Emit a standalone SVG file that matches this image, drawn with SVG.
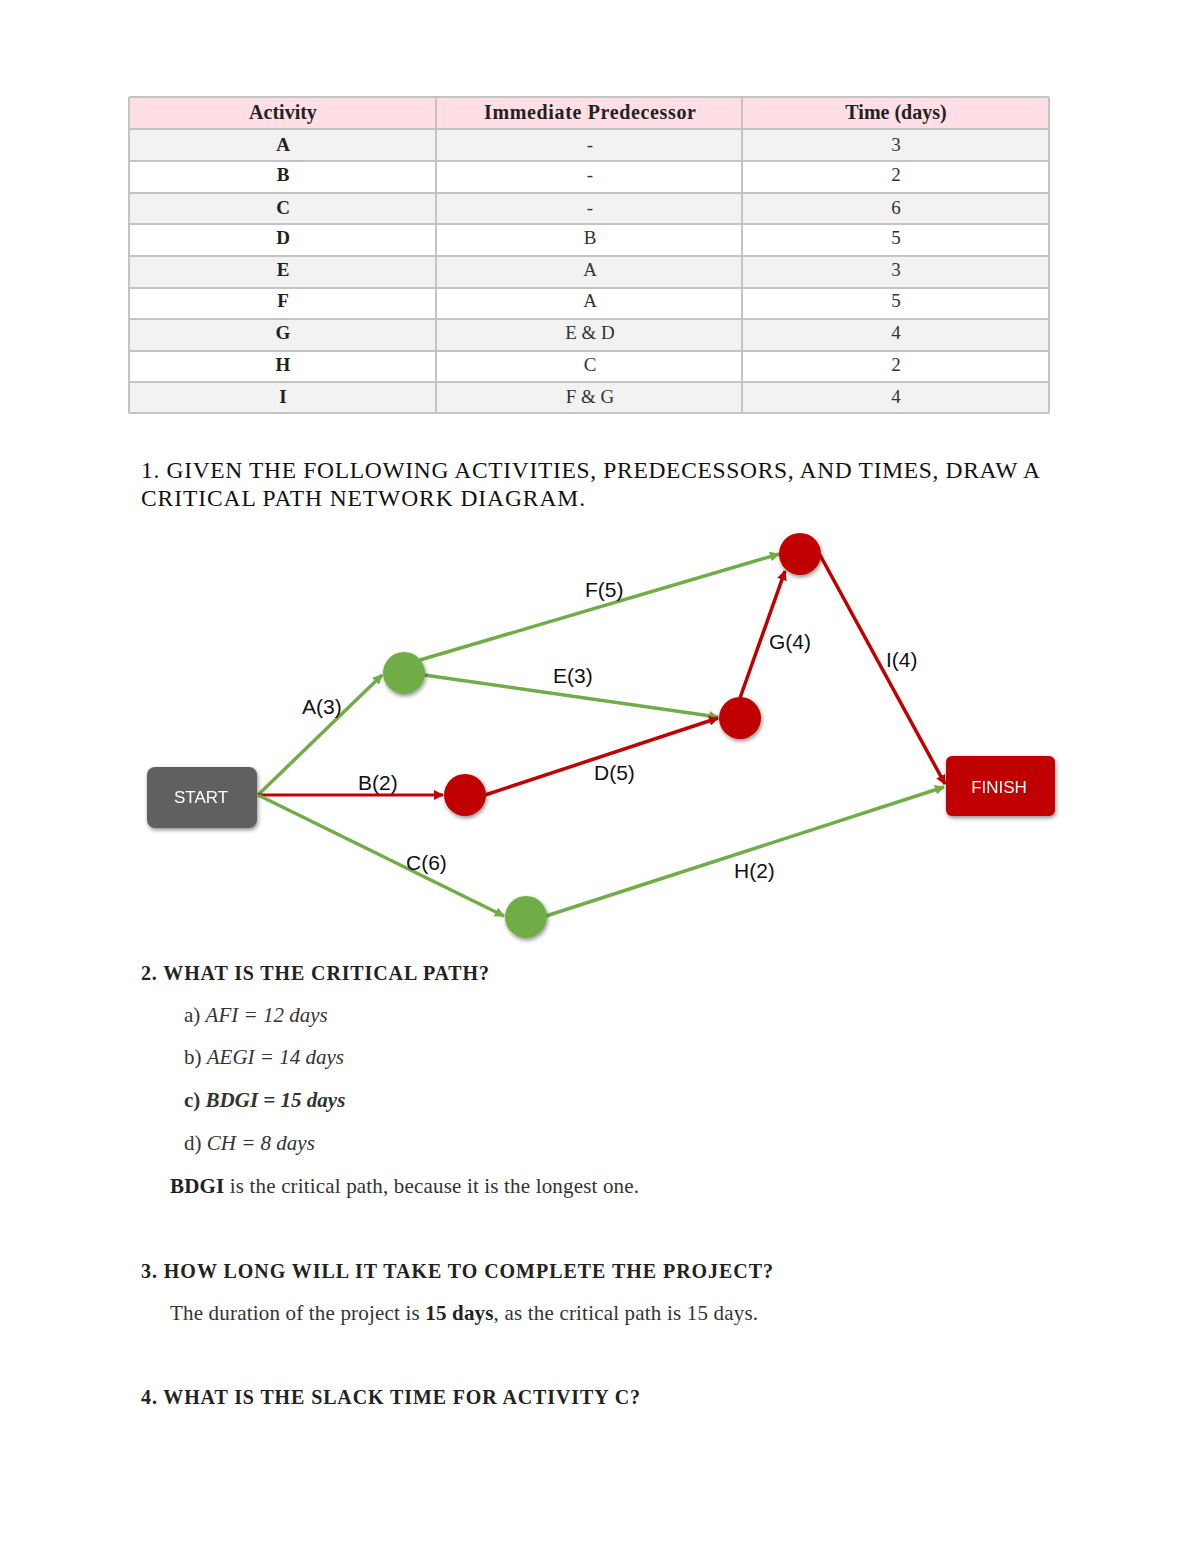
<svg xmlns="http://www.w3.org/2000/svg" width="1200" height="1553" viewBox="0 0 1200 1553">
<style>
.th{font-family:"Liberation Serif",serif;font-weight:bold;font-size:20px;fill:#222;text-anchor:middle}
.td{font-family:"Liberation Serif",serif;font-size:19px;fill:#333;text-anchor:middle}
.tdb{font-family:"Liberation Serif",serif;font-weight:bold;font-size:19px;fill:#222;text-anchor:middle}
.h{font-family:"Liberation Serif",serif;font-weight:bold;font-size:20px;fill:#222}
.h1{font-family:"Liberation Serif",serif;font-size:23.5px;fill:#111}
.p{font-family:"Liberation Serif",serif;font-size:21px;fill:#333}
.lbl{font-family:"Liberation Sans",sans-serif;font-size:21px;fill:#111}
.g{stroke:#70AD47;stroke-width:3.5;fill:none}
.r{stroke:#C00000;stroke-width:3.5;fill:none}
.cell{stroke:#C4C4C4;stroke-width:2}
</style>
<defs>
<marker id="ag" viewBox="0 0 10 10" refX="9" refY="5" markerWidth="10" markerHeight="10" markerUnits="userSpaceOnUse" orient="auto"><path d="M0,0 L10,5 L0,10 z" fill="#70AD47"/></marker>
<marker id="ar" viewBox="0 0 10 10" refX="9" refY="5" markerWidth="10" markerHeight="10" markerUnits="userSpaceOnUse" orient="auto"><path d="M0,0 L10,5 L0,10 z" fill="#C00000"/></marker>
<filter id="sh" x="-20%" y="-20%" width="140%" height="150%"><feGaussianBlur in="SourceAlpha" stdDeviation="2"/><feOffset dx="1" dy="2"/><feComponentTransfer><feFuncA type="linear" slope="0.45"/></feComponentTransfer><feMerge><feMergeNode/><feMergeNode in="SourceGraphic"/></feMerge></filter>
</defs>
<rect width="1200" height="1553" fill="#fff"/>
<g id="table">
<rect x="129" y="97" width="920" height="32" fill="#FFDFE5"/>
<rect x="129" y="129" width="920" height="32" fill="#F2F2F2"/>
<rect x="129" y="193" width="920" height="31" fill="#F2F2F2"/>
<rect x="129" y="256" width="920" height="32" fill="#F2F2F2"/>
<rect x="129" y="319" width="920" height="32" fill="#F2F2F2"/>
<rect x="129" y="382" width="920" height="31" fill="#F2F2F2"/>
<g class="cell">
<line x1="129" y1="97" x2="1049" y2="97"/>
<line x1="129" y1="129" x2="1049" y2="129"/>
<line x1="129" y1="161" x2="1049" y2="161"/>
<line x1="129" y1="193" x2="1049" y2="193"/>
<line x1="129" y1="224" x2="1049" y2="224"/>
<line x1="129" y1="256" x2="1049" y2="256"/>
<line x1="129" y1="288" x2="1049" y2="288"/>
<line x1="129" y1="319" x2="1049" y2="319"/>
<line x1="129" y1="351" x2="1049" y2="351"/>
<line x1="129" y1="382" x2="1049" y2="382"/>
<line x1="129" y1="413" x2="1049" y2="413"/>
<line x1="129" y1="97" x2="129" y2="413"/>
<line x1="436" y1="97" x2="436" y2="413"/>
<line x1="742" y1="97" x2="742" y2="413"/>
<line x1="1049" y1="97" x2="1049" y2="413"/>
</g>
<text class="th" x="283" y="119">Activity</text>
<text class="th" x="590" y="119" textLength="212">Immediate Predecessor</text>
<text class="th" x="896" y="119">Time (days)</text>
<text class="tdb" x="283" y="151">A</text><text class="td" x="590" y="151">-</text><text class="td" x="896" y="151">3</text>
<text class="tdb" x="283" y="181">B</text><text class="td" x="590" y="181">-</text><text class="td" x="896" y="181">2</text>
<text class="tdb" x="283" y="214">C</text><text class="td" x="590" y="214">-</text><text class="td" x="896" y="214">6</text>
<text class="tdb" x="283" y="244">D</text><text class="td" x="590" y="244">B</text><text class="td" x="896" y="244">5</text>
<text class="tdb" x="283" y="276">E</text><text class="td" x="590" y="276">A</text><text class="td" x="896" y="276">3</text>
<text class="tdb" x="283" y="307">F</text><text class="td" x="590" y="307">A</text><text class="td" x="896" y="307">5</text>
<text class="tdb" x="283" y="339">G</text><text class="td" x="590" y="339">E &amp; D</text><text class="td" x="896" y="339">4</text>
<text class="tdb" x="283" y="371">H</text><text class="td" x="590" y="371">C</text><text class="td" x="896" y="371">2</text>
<text class="tdb" x="283" y="403">I</text><text class="td" x="590" y="403">F &amp; G</text><text class="td" x="896" y="403">4</text>
</g>
<g id="q1">
<text class="h1" x="141" y="478" textLength="899">1. GIVEN THE FOLLOWING ACTIVITIES, PREDECESSORS, AND TIMES, DRAW A</text>
<text class="h1" x="141" y="506" textLength="444">CRITICAL PATH NETWORK DIAGRAM.</text>
</g>
<g id="connectors">
<line class="g" x1="258" y1="795" x2="382" y2="675" marker-end="url(#ag)"/>
<line class="r" x1="258" y1="795" x2="443" y2="795" marker-end="url(#ar)" style="stroke-width:3"/>
<line class="g" x1="258" y1="795" x2="504" y2="916" marker-end="url(#ag)"/>
<line class="g" x1="420" y1="660" x2="779" y2="554" marker-end="url(#ag)"/>
<line class="g" x1="424" y1="675" x2="718" y2="717" marker-end="url(#ag)"/>
<line class="r" x1="485" y1="795" x2="718" y2="718" marker-end="url(#ar)"/>
<line class="r" x1="740" y1="698" x2="785" y2="571" marker-end="url(#ar)"/>
<line class="r" x1="820" y1="555" x2="945" y2="784" marker-end="url(#ar)"/>
<line class="g" x1="546" y1="916" x2="944" y2="787" marker-end="url(#ag)"/>
</g>
<g id="labels">
<text class="lbl" x="302" y="714">A(3)</text>
<text class="lbl" x="358" y="790">B(2)</text>
<text class="lbl" x="406" y="870">C(6)</text>
<text class="lbl" x="585" y="597">F(5)</text>
<text class="lbl" x="553" y="683">E(3)</text>
<text class="lbl" x="594" y="780">D(5)</text>
<text class="lbl" x="769" y="649">G(4)</text>
<text class="lbl" x="886" y="667">I(4)</text>
<text class="lbl" x="734" y="878">H(2)</text>
</g>
<g id="start" filter="url(#sh)">
<rect x="147" y="767" width="110" height="61" rx="8" fill="#606060"/>
<text x="201" y="803" font-family="Liberation Sans, sans-serif" font-size="17" fill="#fff" text-anchor="middle">START</text>
</g>
<g id="finish" filter="url(#sh)">
<rect x="946" y="756" width="109" height="60" rx="6" fill="#C00000"/>
<text x="999" y="793" font-family="Liberation Sans, sans-serif" font-size="17" fill="#fff" text-anchor="middle">FINISH</text>
</g>
<g id="nodeA" filter="url(#sh)"><circle cx="404" cy="673" r="21" fill="#70AD47"/></g>
<g id="nodeB" filter="url(#sh)"><circle cx="465" cy="795" r="21" fill="#C00000"/></g>
<g id="nodeC" filter="url(#sh)"><circle cx="526" cy="917" r="21" fill="#70AD47"/></g>
<g id="nodeDE" filter="url(#sh)"><circle cx="740" cy="718" r="21" fill="#C00000"/></g>
<g id="nodeFG" filter="url(#sh)"><circle cx="800" cy="554" r="21" fill="#C00000"/></g>
<g id="q2">
<text class="h" x="141" y="980" textLength="348">2. WHAT IS THE CRITICAL PATH?</text>
<text class="p" x="184" y="1022">a) <tspan font-style="italic">AFI = 12 days</tspan></text>
<text class="p" x="184" y="1064">b) <tspan font-style="italic">AEGI = 14 days</tspan></text>
<text class="p" x="184" y="1107" font-weight="bold" fill="#222">c) <tspan font-style="italic">BDGI = 15 days</tspan></text>
<text class="p" x="184" y="1150">d) <tspan font-style="italic">CH = 8 days</tspan></text>
<text class="p" x="170" y="1193" textLength="469"><tspan font-weight="bold" fill="#222">BDGI</tspan> is the critical path, because it is the longest one.</text>
</g>
<g id="q3">
<text class="h" x="141" y="1278" textLength="632">3. HOW LONG WILL IT TAKE TO COMPLETE THE PROJECT?</text>
<text class="p" x="170" y="1320" textLength="588">The duration of the project is <tspan font-weight="bold" fill="#222">15 days</tspan>, as the critical path is 15 days.</text>
</g>
<g id="q4">
<text class="h" x="141" y="1404" textLength="499">4. WHAT IS THE SLACK TIME FOR ACTIVITY C?</text>
</g>
</svg>
